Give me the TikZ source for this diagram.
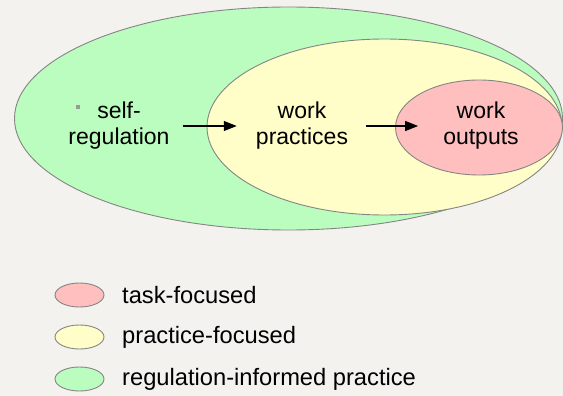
\documentclass[tikz,border=0pt]{standalone}
\usepackage{fontspec}
\setmainfont{Liberation Sans}
\usetikzlibrary{arrows.meta, shapes.geometric}

\definecolor{paper}{HTML}{F4F2EE}
\definecolor{regfill}{HTML}{BBFDBF}
\definecolor{pracfill}{HTML}{FFFEC8}
\definecolor{taskfill}{HTML}{FFBFBF}
\definecolor{rim}{HTML}{858585}

\begin{document}
\begin{tikzpicture}[
  x=1pt, y=-1pt,
  font=\fontsize{23}{26}\selectfont,
  blob/.style={ellipse, draw=rim, line width=0.9pt, inner sep=0pt},
  word/.style={align=center, inner sep=0pt},
  flow/.style={-{Triangle[length=13pt, width=10pt]}, line width=1.3pt},
  keytext/.style={anchor=west, inner sep=0pt, font=\fontsize{23.7}{26}\selectfont}
]

%% ---------- paper ----------
\fill[paper] (0,0) rectangle (563,396);
\useasboundingbox (0,0) rectangle (563,396);

%% ---------- nested ellipses ----------
\node[blob, fill=regfill,  minimum width=548pt, minimum height=223pt] (regulation) at (288.5,118.5) {};
\node[blob, fill=pracfill, minimum width=355pt, minimum height=176pt] (practice)   at (384.5,127) {};
\node[blob, fill=taskfill, minimum width=167pt, minimum height=95pt]  (task)       at (479,127.5) {};

%% ---------- labels ----------
\node[fill=gray!80, minimum size=3.5pt, inner sep=0pt] (bullet) at (78,107) {};
\node[word] (selfreg)   at (119,126) {self-\\regulation};
\node[word] (practices) at (302,126) {work\\practices};
\node[word] (outputs)   at (481,126) {work\\outputs};

\draw[flow, shorten <=13pt, shorten >=19pt] (selfreg) -- (practices);
\draw[flow, shorten <=18pt, shorten >=25pt] (practices) -- (outputs);

%% ---------- legend ----------
\foreach \key/\col/\txt/\y in {task/taskfill/task-focused/295,
                               prac/pracfill/practice-focused/337,
                               reg/regfill/regulation-informed practice/379}{
  \node[blob, fill=\col, minimum width=49pt, minimum height=24pt] (key\key) at (79.5,\y) {};
  \node[keytext] (txt\key) at (122,\y) {\txt};
}
\end{tikzpicture}
\end{document}
